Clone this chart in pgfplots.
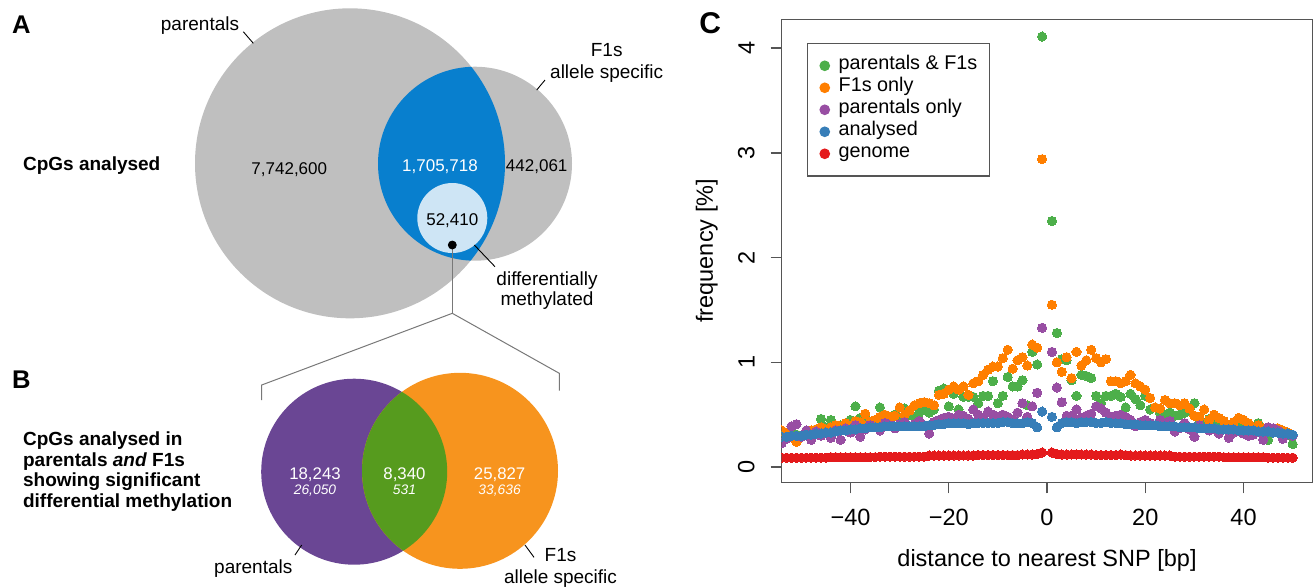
\documentclass[border=0pt]{standalone}
\usepackage{fontspec}
\setmainfont{Liberation Sans}
\usepackage{pgfplots}
\pgfplotsset{compat=1.18}
\definecolor{cgreen}{HTML}{4DAF4A}
\definecolor{corange}{HTML}{FF7F00}
\definecolor{cpurple}{HTML}{984EA3}
\definecolor{cblue}{HTML}{377EB8}
\definecolor{cred}{HTML}{E41A1C}
\definecolor{axgray}{HTML}{555555}
\definecolor{vgrey}{RGB}{191,191,191}
\definecolor{vblue}{RGB}{8,127,206}
\definecolor{vlight}{RGB}{206,229,245}
\definecolor{vpurple}{RGB}{106,70,148}
\definecolor{vorange}{RGB}{247,148,30}
\definecolor{vgreen}{RGB}{86,155,30}
\definecolor{brgray}{RGB}{120,120,120}
\newcommand{\fPanel}{\fontsize{12.8pt}{15pt}\selectfont\bfseries}
\newcommand{\fPanelC}{\fontsize{15pt}{17pt}\selectfont\bfseries}
\newcommand{\fLab}{\fontsize{9.5pt}{11pt}\selectfont}
\newcommand{\fNum}{\fontsize{8.5pt}{10pt}\selectfont}
\newcommand{\fNumB}{\fontsize{8.4pt}{10pt}\selectfont}
\newcommand{\fNumI}{\fontsize{6.9pt}{8pt}\selectfont\itshape}
\newcommand{\fBold}{\fontsize{9.5pt}{10.5pt}\selectfont\bfseries}
\newcommand{\fAx}{\fontsize{11.75pt}{13pt}\selectfont}
\newcommand{\fLeg}{\fontsize{9.9pt}{11pt}\selectfont}
\begin{document}
\begin{tikzpicture}
% ---------------- Panels A and B (canvas axis, units = pixels) ----------------
\begin{axis}[at={(0pt,0pt)}, anchor=south west, width=656.5pt, height=293pt,
  scale only axis, xmin=0, xmax=1313, ymin=0, ymax=586, y dir=reverse,
  hide axis, clip=false]
% A
\fill[vgrey] (350,163.3) circle[radius=77.5pt];
\fill[vgrey] (475,163.7) circle[radius=48.5pt];
\begin{scope}
\clip (350,163.3) circle[radius=77.5pt];
\fill[vblue] (475,163.7) circle[radius=48.5pt];
\end{scope}
\fill[vlight] (452.3,218) circle[radius=17.5pt];
\addplot[only marks, mark=*, mark size=2pt, black] coordinates {(452.3,245)};
\draw[brgray, line width=0.5pt] (452.3,245) -- (452.3,313.3);
\draw[brgray, line width=0.5pt] (261.7,400) -- (261.7,385) -- (452.3,313.3) -- (559.3,373.3) -- (559.3,390.7);
\draw[black, line width=0.45pt] (243.3,31.7) -- (253.3,43.3);
\draw[black, line width=0.45pt] (545,80) -- (536.7,90);
\draw[black, line width=0.45pt] (474.3,245) -- (495,266.7);
\node[anchor=base west, font=\fPanel, inner sep=0pt] at (11.7,33.3) {A};
\node[anchor=base, font=\fLab, inner sep=0pt] at (200,30) {parentals};
\node[anchor=base, font=\fLab, inner sep=0pt] at (606.7,56.7) {F1s};
\node[anchor=base, font=\fLab, inner sep=0pt] at (606.7,78.3) {allele specific};
\node[anchor=base west, font=\fBold, inner sep=0pt] at (22.7,170) {CpGs analysed};
\node[anchor=base, font=\fNum, inner sep=0pt] at (289.3,174) {7,742,600};
\node[anchor=base, font=\fNum, inner sep=0pt, white] at (440,171.7) {1,705,718};
\node[anchor=base, font=\fNum, inner sep=0pt] at (536.7,171.7) {442,061};
\node[anchor=base, font=\fNum, inner sep=0pt] at (452.3,225) {52,410};
\node[anchor=base, font=\fLab, inner sep=0pt] at (547,285) {differentially};
\node[anchor=base, font=\fLab, inner sep=0pt] at (547,305) {methylated};
% B
\fill[vpurple] (354.2,471.7) circle[radius=46.5pt];
\fill[vorange] (460,470.8) circle[radius=49pt];
\begin{scope}
\clip (354.2,471.7) circle[radius=46.5pt];
\fill[vgreen] (460,470.8) circle[radius=49pt];
\end{scope}
\draw[black, line width=0.45pt] (301.7,545) -- (295,555);
\draw[black, line width=0.45pt] (525,545) -- (534,557.3);
\node[anchor=base west, font=\fPanel, inner sep=0pt] at (11.7,388.3) {B};
\node[anchor=base west, font=\fBold, inner sep=0pt] at (22.7,445) {CpGs analysed in};
\node[anchor=base west, font=\fBold, inner sep=0pt] at (22.7,466) {parentals \textit{and} F1s};
\node[anchor=base west, font=\fBold, inner sep=0pt] at (22.7,486.7) {showing significant};
\node[anchor=base west, font=\fBold, inner sep=0pt] at (22.7,507.3) {differential methylation};
\node[anchor=base, font=\fNumB, inner sep=0pt, white] at (315,479.3) {18,243};
\node[anchor=base, font=\fNumI, inner sep=0pt, white] at (315,494.3) {26,050};
\node[anchor=base, font=\fNumB, inner sep=0pt, white] at (404.5,479.3) {8,340};
\node[anchor=base, font=\fNumI, inner sep=0pt, white] at (404.5,494.3) {531};
\node[anchor=base, font=\fNumB, inner sep=0pt, white] at (499.6,479.3) {25,827};
\node[anchor=base, font=\fNumI, inner sep=0pt, white] at (499.6,494.3) {33,636};
\node[anchor=base, font=\fLab, inner sep=0pt] at (253.3,573.3) {parentals};
\node[anchor=base, font=\fLab, inner sep=0pt] at (560.5,561.7) {F1s};
\node[anchor=base, font=\fLab, inner sep=0pt] at (560.5,583.3) {allele specific};
\node[anchor=base west, font=\fPanelC, inner sep=0pt] at (699,33.3) {C};
\end{axis}
% ---------------- Panel C ----------------
\begin{axis}[at={(390.85pt,51.85pt)}, anchor=south west,
  width=265.3pt, height=231.5pt, scale only axis,
  xmin=-54, xmax=54, ymin=-0.145, ymax=4.275,
  xtick={-40,-20,0,20,40}, xticklabels={−40,−20,0,20,40},
  ytick={0,1,2,3,4}, yticklabels={0,1,2,3,4},
  tick pos=left, tick align=outside, major tick length=5.5pt,
  axis line style={draw=axgray, line width=0.7pt},
  every tick/.style={draw=axgray, line width=0.7pt},
  ticklabel style={font=\fAx},
  xticklabel style={yshift=-4.5pt},
  yticklabel style={xshift=-4.5pt, rotate=90, anchor=south},
  label style={font=\fAx},
  xlabel={distance to nearest SNP [bp]},
  ylabel={frequency [\%]},
  xlabel style={at={(axis description cs:0.5,-0.1808)}, anchor=base},
  ylabel style={at={(axis description cs:-0.1295,0.5)}, anchor=base},
  clip marker paths=true,
  legend style={at={(axis cs:-48.9,4.05)}, anchor=north west, draw=axgray,
    line width=0.7pt, font=\fLeg, inner xsep=6pt, inner ysep=5.6pt, row sep=0pt,
    column sep=4.3pt,
    nodes={inner sep=0pt, text height=7.4pt, text depth=3.6pt}},
  legend cell align=left,
  legend image code/.code={\fill[#1] (0pt,0pt) circle (2.3pt);},
  every axis plot/.append style={only marks, mark=*, mark size=2.3pt, mark options={line width=0pt}},
]
\addplot[color=cgreen] coordinates {(-54,0.30)(-53,0.28)(-52,0.33)(-51,0.31)(-50,0.30)(-49,0.33)(-48,0.35)(-47,0.36)(-46,0.46)(-45,0.38)(-44,0.45)(-43,0.37)(-42,0.40)(-41,0.36)(-40,0.45)(-39,0.58)(-38,0.47)(-37,0.48)(-36,0.42)(-35,0.44)(-34,0.57)(-33,0.48)(-32,0.45)(-31,0.50)(-30,0.47)(-29,0.56)(-28,0.50)(-27,0.48)(-26,0.52)(-25,0.55)(-24,0.52)(-23,0.55)(-22,0.73)(-21,0.75)(-20,0.58)(-19,0.70)(-18,0.55)(-17,0.67)(-16,0.67)(-15,0.67)(-14,0.61)(-13,0.68)(-12,0.68)(-11,0.82)(-10,0.61)(-9,0.68)(-8,0.86)(-7,0.77)(-6,0.77)(-5,0.83)(-4,0.59)(-3,1.10)(-2,0.98)(-1,4.11)
(1,2.35)(2,1.28)(3,1.03)(4,1.02)(5,0.83)(6,0.68)(7,0.88)(8,0.87)(9,0.85)(10,0.68)(11,0.61)(12,0.68)(13,0.68)(14,0.70)(15,0.67)(16,0.57)(17,0.70)(18,0.65)(19,0.59)(20,0.68)(21,0.55)(22,0.57)(23,0.52)(24,0.50)(25,0.52)(26,0.49)(27,0.50)(28,0.52)(29,0.55)(30,0.61)(31,0.45)(32,0.42)(33,0.46)(34,0.41)(35,0.44)(36,0.38)(37,0.40)(38,0.36)(39,0.38)(40,0.35)(41,0.38)(42,0.35)(43,0.42)(44,0.33)(45,0.26)(46,0.35)(47,0.33)(48,0.30)(49,0.31)(50,0.22)};
\addlegendentry{parentals \& F1s}
\addplot[color=corange] coordinates {(-54,0.35)(-53,0.32)(-52,0.30)(-51,0.24)(-50,0.30)(-49,0.33)(-48,0.35)(-47,0.36)(-46,0.38)(-45,0.36)(-44,0.38)(-43,0.40)(-42,0.38)(-41,0.42)(-40,0.39)(-39,0.44)(-38,0.43)(-37,0.51)(-36,0.43)(-35,0.45)(-34,0.48)(-33,0.50)(-32,0.48)(-31,0.49)(-30,0.57)(-29,0.50)(-28,0.54)(-27,0.59)(-26,0.61)(-25,0.62)(-24,0.61)(-23,0.59)(-22,0.69)(-21,0.70)(-20,0.74)(-19,0.77)(-18,0.74)(-17,0.77)(-16,0.69)(-15,0.80)(-14,0.82)(-13,0.88)(-12,0.93)(-11,0.96)(-10,0.96)(-9,1.04)(-8,1.12)(-7,0.94)(-6,1.02)(-5,1.05)(-4,0.97)(-3,1.17)(-2,1.14)(-1,2.94)
(1,1.55)(2,1.00)(3,0.91)(4,1.05)(5,0.85)(6,1.10)(7,0.97)(8,1.02)(9,1.12)(10,1.04)(11,1.00)(12,1.03)(13,0.82)(14,0.82)(15,0.80)(16,0.82)(17,0.88)(18,0.80)(19,0.77)(20,0.74)(21,0.66)(22,0.57)(23,0.56)(24,0.64)(25,0.61)(26,0.61)(27,0.59)(28,0.61)(29,0.56)(30,0.49)(31,0.48)(32,0.55)(33,0.45)(34,0.50)(35,0.47)(36,0.44)(37,0.40)(38,0.43)(39,0.47)(40,0.45)(41,0.42)(42,0.38)(43,0.40)(44,0.37)(45,0.38)(46,0.36)(47,0.37)(48,0.35)(49,0.33)(50,0.30)};
\addlegendentry{F1s only}
\addplot[color=cpurple] coordinates {(-54,0.23)(-53,0.27)(-52,0.39)(-51,0.41)(-50,0.29)(-49,0.35)(-48,0.26)(-47,0.34)(-46,0.30)(-45,0.33)(-44,0.28)(-43,0.35)(-42,0.26)(-41,0.37)(-40,0.33)(-39,0.40)(-38,0.29)(-37,0.36)(-36,0.40)(-35,0.38)(-34,0.35)(-33,0.42)(-32,0.40)(-31,0.37)(-30,0.41)(-29,0.43)(-28,0.39)(-27,0.41)(-26,0.44)(-25,0.40)(-24,0.32)(-23,0.43)(-22,0.45)(-21,0.47)(-20,0.48)(-19,0.46)(-18,0.50)(-17,0.49)(-16,0.46)(-15,0.55)(-14,0.50)(-13,0.47)(-12,0.53)(-11,0.50)(-10,0.48)(-9,0.50)(-8,0.48)(-7,0.45)(-6,0.52)(-5,0.61)(-4,0.48)(-3,0.58)(-2,0.71)(-1,1.33)
(1,1.10)(2,0.76)(3,0.62)(4,0.49)(5,0.49)(6,0.55)(7,0.47)(8,0.49)(9,0.51)(10,0.58)(11,0.56)(12,0.52)(13,0.48)(14,0.49)(15,0.50)(16,0.48)(17,0.45)(18,0.39)(19,0.43)(20,0.45)(21,0.42)(22,0.40)(23,0.45)(24,0.42)(25,0.44)(26,0.34)(27,0.37)(28,0.42)(29,0.36)(30,0.29)(31,0.40)(32,0.37)(33,0.35)(34,0.36)(35,0.32)(36,0.36)(37,0.28)(38,0.33)(39,0.35)(40,0.32)(41,0.30)(42,0.31)(43,0.34)(44,0.26)(45,0.38)(46,0.37)(47,0.35)(48,0.27)(49,0.32)(50,0.30)};
\addlegendentry{parentals only}
\addplot[color=cblue] coordinates {(-54,0.29)(-53,0.29)(-52,0.30)(-51,0.30)(-50,0.30)(-49,0.31)(-48,0.31)(-47,0.32)(-46,0.32)(-45,0.33)(-44,0.33)(-43,0.34)(-42,0.35)(-41,0.35)(-40,0.36)(-39,0.36)(-38,0.37)(-37,0.37)(-36,0.38)(-35,0.38)(-34,0.38)(-33,0.39)(-32,0.39)(-31,0.39)(-30,0.39)(-29,0.39)(-28,0.39)(-27,0.39)(-26,0.39)(-25,0.39)(-24,0.40)(-23,0.40)(-22,0.41)(-21,0.41)(-20,0.42)(-19,0.42)(-18,0.42)(-17,0.42)(-16,0.41)(-15,0.42)(-14,0.42)(-13,0.42)(-12,0.42)(-11,0.42)(-10,0.42)(-9,0.43)(-8,0.43)(-7,0.42)(-6,0.42)(-5,0.42)(-4,0.43)(-3,0.42)(-2,0.38)(-1,0.53)
(1,0.48)(2,0.38)(3,0.42)(4,0.43)(5,0.43)(6,0.42)(7,0.43)(8,0.43)(9,0.43)(10,0.42)(11,0.42)(12,0.43)(13,0.42)(14,0.42)(15,0.42)(16,0.41)(17,0.41)(18,0.41)(19,0.40)(20,0.40)(21,0.40)(22,0.40)(23,0.39)(24,0.39)(25,0.39)(26,0.39)(27,0.38)(28,0.38)(29,0.38)(30,0.38)(31,0.37)(32,0.37)(33,0.37)(34,0.37)(35,0.36)(36,0.36)(37,0.36)(38,0.36)(39,0.35)(40,0.35)(41,0.35)(42,0.35)(43,0.34)(44,0.34)(45,0.34)(46,0.33)(47,0.33)(48,0.32)(49,0.32)(50,0.31)};
\addlegendentry{analysed}
\addplot[color=cred] coordinates {(-54,0.090)(-53,0.090)(-52,0.090)(-51,0.090)(-50,0.090)(-49,0.090)(-48,0.090)(-47,0.090)(-46,0.090)(-45,0.090)(-44,0.095)(-43,0.095)(-42,0.095)(-41,0.095)(-40,0.095)(-39,0.095)(-38,0.095)(-37,0.095)(-36,0.095)(-35,0.095)(-34,0.100)(-33,0.100)(-32,0.100)(-31,0.100)(-30,0.100)(-29,0.100)(-28,0.100)(-27,0.100)(-26,0.100)(-25,0.100)(-24,0.110)(-23,0.110)(-22,0.110)(-21,0.110)(-20,0.110)(-19,0.110)(-18,0.110)(-17,0.110)(-16,0.110)(-15,0.110)(-14,0.115)(-13,0.115)(-12,0.115)(-11,0.115)(-10,0.115)(-9,0.115)(-8,0.115)(-7,0.115)(-6,0.115)(-5,0.120)(-4,0.120)(-3,0.120)(-2,0.125)(-1,0.140)
(1,0.140)(2,0.125)(3,0.120)(4,0.120)(5,0.120)(6,0.120)(7,0.120)(8,0.120)(9,0.120)(10,0.115)(11,0.115)(12,0.115)(13,0.115)(14,0.115)(15,0.120)(16,0.115)(17,0.110)(18,0.110)(19,0.110)(20,0.110)(21,0.110)(22,0.110)(23,0.110)(24,0.110)(25,0.110)(26,0.100)(27,0.100)(28,0.100)(29,0.100)(30,0.100)(31,0.100)(32,0.100)(33,0.100)(34,0.100)(35,0.100)(36,0.095)(37,0.095)(38,0.095)(39,0.095)(40,0.095)(41,0.095)(42,0.095)(43,0.095)(44,0.095)(45,0.090)(46,0.090)(47,0.090)(48,0.090)(49,0.090)(50,0.090)};
\addlegendentry{genome}
\end{axis}
\pgfresetboundingbox
\useasboundingbox (0pt,0pt) rectangle (656.5pt,293pt);
\end{tikzpicture}
\end{document}
